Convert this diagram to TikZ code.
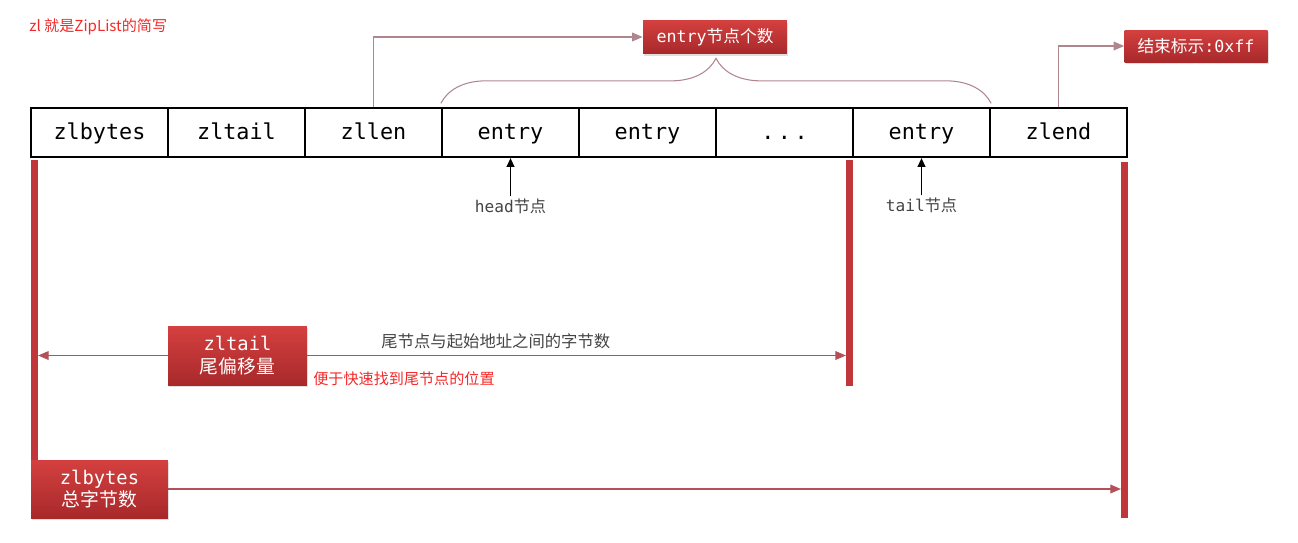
\documentclass[tikz,border=0pt]{standalone}
\usepackage{fontspec}
\setmainfont{Noto Sans CJK SC}
\setmonofont{DejaVu Sans Mono}
\usepackage{xcolor}
\usepackage{tikz}
\usetikzlibrary{arrows.meta,shadows,decorations.pathreplacing}

\definecolor{boxtop}{HTML}{D4403F}
\definecolor{boxbot}{HTML}{A8292B}
\definecolor{barred}{HTML}{C0363A}
\definecolor{linkgray}{HTML}{B0868E}
\definecolor{linkred}{HTML}{B4505A}
\definecolor{notered}{HTML}{F52828}
\definecolor{textgray}{HTML}{444444}

\newcommand\celldots{.\kern2pt.\kern2pt.}

\tikzset{
    cell/.style={draw, line width=1.3pt, minimum width=2.74cm, minimum height=0.98cm,
        inner sep=0pt, text height=10pt, text depth=2pt,
        font=\ttfamily\fontsize{12.4}{14}\selectfont},
    redbox/.style={top color=boxtop, bottom color=boxbot, text=white, inner sep=0pt,
        align=center, drop shadow={opacity=0.25, shadow xshift=0.6pt, shadow yshift=-1.2pt}},
    bar/.style={fill=barred, minimum width=0.13cm, inner sep=0pt},
    link/.style={draw=linkgray, line width=0.6pt, -{Triangle[length=6pt,width=5pt]}},
    spanarrow/.style={draw=linkred, line width=0.6pt, -{Triangle[length=6pt,width=5pt]}},
    pointer/.style={draw=black, line width=0.6pt, -{Triangle[length=5pt,width=4.5pt]}},
    ptrtext/.style={text=textgray, inner sep=1pt, font=\fontsize{9.2}{11}\selectfont},
    hint/.style={text=notered, inner sep=0pt, font=\fontsize{8.6}{10}\selectfont}
}

\begin{document}
\begin{tikzpicture}[x=0.02cm,y=-0.02cm]
    \useasboundingbox (0,0) rectangle (1298,542);
    % note at the top left
    \node[hint, anchor=west] (abbr) at (29,27) {zl 就是ZipList的简写};
    % ziplist row
    \foreach \i/\txt in {1/zlbytes,2/zltail,3/zllen,4/entry,5/entry,6/\celldots,7/entry,8/zlend} {
        \node[cell] (c\i) at (31+137*\i-68.5,132.5) {\txt};
    }
    % top boxes
    \node[redbox, minimum width=2.88cm, minimum height=0.66cm, font=\fontsize{9.5}{11}\selectfont]
        (count) at (715,37) {\texttt{entry}节点个数};
    \node[redbox, minimum width=2.86cm, minimum height=0.64cm, font=\fontsize{9.5}{11}\selectfont]
        (endmark) at (1196,46) {结束标示\texttt{:0xff}};
    \draw[link] (c3.north) |- (count.west);
    \draw[link] (c8.north) |- (endmark.west);
    \draw[linkgray, line width=0.6pt, decorate, decoration={brace, amplitude=0.9cm}]
        ([yshift=2pt]c4.north west) -- ([yshift=2pt]c7.north east);
    % head / tail pointers
    \node[ptrtext] (head) at (510.5,206) {\texttt{head}节点};
    \node[ptrtext] (tail) at (921.5,205) {\texttt{tail}节点};
    \draw[pointer] (head.north) -- (c4.south);
    \draw[pointer] (tail.north) -- (c7.south);
    % offset bars
    \node[bar, minimum height=6cm] (barL) at (34.5,310) {};
    \node[bar, minimum height=4.52cm] (barM) at (849.5,273) {};
    \node[bar, minimum height=7.12cm] (barR) at (1124.5,340) {};
    % zltail offset
    \node[redbox, minimum width=2.78cm, minimum height=1.18cm, font=\fontsize{10.7}{13}\selectfont]
        (offset) at (237.5,355.5) {\texttt{zltail}\\尾偏移量};
    \draw[spanarrow] (offset.west) -- (offset.west -| barL.east);
    \draw[spanarrow] (offset.east) -- (offset.east -| barM.west)
        node[pos=0.35, above, text=textgray, font=\fontsize{9.3}{11}\selectfont] {尾节点与起始地址之间的字节数};
    \node[hint, anchor=west] (fast) at (313,379) {便于快速找到尾节点的位置};
    % zlbytes total
    \node[redbox, minimum width=2.74cm, minimum height=1.16cm, font=\fontsize{10.7}{13}\selectfont]
        (total) at (99.5,489) {\texttt{zlbytes}\\总字节数};
    \draw[spanarrow] (total.east) -- (total.east -| barR.west);
\end{tikzpicture}
\end{document}
